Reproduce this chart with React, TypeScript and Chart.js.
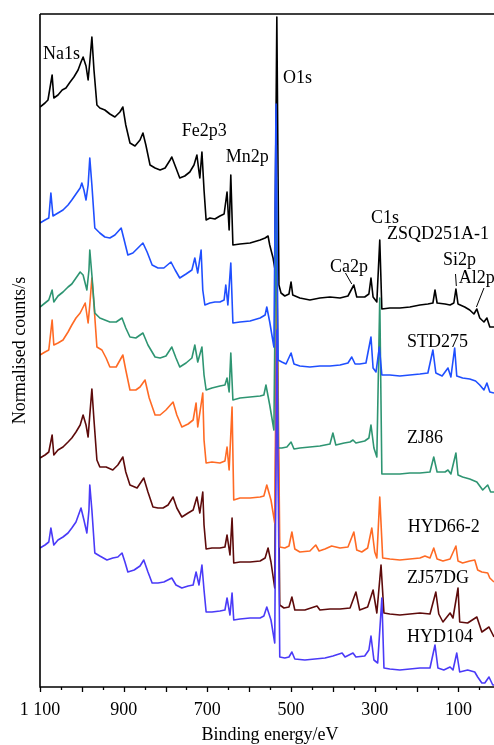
import React, { useEffect, useRef } from "react";
import { Chart, registerables } from "chart.js";

Chart.register(...registerables);

// Binding energy axis (eV, reversed) and normalised counts (arbitrary units)
const X_MAX = 1100;
const X_MIN = 15;
const Y_MIN = 0;
const Y_MAX = 673;

const tickLabels = [1100, 900, 700, 500, 300, 100];
const tickMarks = [1100, 1050, 1000, 950, 900, 850, 800, 750, 700, 650, 600, 550, 500, 450, 400, 350, 300, 250, 200, 150, 100, 50];

const seriesNames = ["ZSQD251A-1", "STD275", "ZJ86", "HYD66-2", "ZJ57DG", "HYD104"];
const seriesColors = ["#000000", "#1f4fff", "#2e9572", "#ff6a24", "#5e0b0b", "#4a3af8"];
const drawOrder = [5, 0, 2, 3, 4, 1];

const ZSQD251A1: [number, number][] = [
  [1100, 580], [1088, 584], [1081, 587], [1071, 612], [1067, 589], [1057, 592], [1047, 597], [1038, 599],
  [1028, 605], [1019, 610], [1009, 617], [1002, 625], [997, 630], [990, 621], [985, 607], [981, 625],
  [976, 650], [971, 617], [964, 582], [957, 579], [945, 577], [933, 573], [921, 570], [909, 575],
  [902, 580], [895, 562], [885, 544], [873, 541], [861, 547], [854, 554], [847, 542], [837, 522],
  [825, 519], [813, 517], [801, 519], [789, 527], [785, 530], [775, 519], [766, 509], [754, 511],
  [742, 515], [732, 522], [725, 532], [720, 515], [718, 509], [713, 535], [708, 497], [703, 467],
  [694, 469], [682, 468], [670, 471], [660, 473], [653, 495], [648, 457], [644, 512], [639, 442],
  [622, 443], [598, 444], [574, 447], [562, 449], [555, 451], [551, 442], [543, 429], [539, 419],
  [534, 670], [529, 402], [524, 394], [515, 391], [505, 393], [500, 405], [496, 392], [479, 389],
  [455, 387], [431, 389], [407, 390], [383, 389], [364, 391], [350, 402], [343, 390], [324, 390],
  [314, 393], [309, 409], [304, 390], [295, 385], [288, 447], [283, 378], [264, 379], [240, 379],
  [216, 380], [192, 382], [173, 383], [161, 384], [156, 397], [151, 384], [132, 383], [120, 382],
  [111, 384], [106, 398], [101, 383], [85, 380], [73, 377], [63, 373], [56, 378], [49, 369],
  [39, 365], [32, 369], [25, 360], [15, 360],
];

const STD275: [number, number][] = [
  [1100, 464], [1088, 467], [1079, 469], [1074, 494], [1069, 471], [1057, 474], [1045, 477], [1033, 482],
  [1024, 487], [1014, 493], [1004, 499], [1000, 504], [995, 497], [990, 487], [985, 502], [981, 529],
  [976, 502], [969, 459], [957, 454], [945, 450], [933, 449], [921, 452], [906, 459], [900, 449],
  [890, 432], [878, 434], [866, 439], [854, 444], [844, 435], [832, 422], [818, 419], [804, 419],
  [787, 425], [777, 417], [766, 409], [751, 413], [737, 417], [730, 429], [723, 414], [715, 437],
  [711, 397], [706, 382], [694, 384], [682, 385], [670, 385], [660, 387], [656, 402], [651, 382],
  [644, 424], [639, 364], [622, 365], [598, 366], [574, 369], [562, 372], [558, 380], [551, 365],
  [541, 340], [536, 583], [531, 327], [522, 325], [512, 323], [500, 334], [493, 323], [479, 321],
  [455, 320], [431, 321], [407, 321], [383, 322], [364, 324], [355, 330], [347, 323], [336, 323],
  [321, 324], [309, 350], [304, 319], [297, 315], [289, 340], [283, 312], [264, 312], [240, 311],
  [216, 312], [192, 313], [173, 314], [161, 337], [154, 314], [139, 311], [125, 319], [118, 310],
  [109, 339], [104, 311], [90, 309], [73, 308], [59, 306], [49, 302], [39, 297], [32, 304],
  [25, 295], [15, 294],
];

const ZJ86: [number, number][] = [
  [1100, 380], [1088, 384], [1079, 387], [1071, 397], [1067, 385], [1057, 391], [1045, 395], [1033, 400],
  [1024, 403], [1014, 409], [1004, 415], [997, 412], [988, 397], [983, 417], [981, 437], [976, 412],
  [969, 374], [957, 369], [945, 367], [933, 365], [918, 365], [904, 369], [895, 359], [885, 350],
  [871, 349], [854, 354], [842, 342], [825, 330], [813, 329], [799, 331], [785, 340], [775, 329],
  [766, 320], [751, 324], [737, 329], [730, 342], [723, 325], [713, 340], [708, 312], [703, 297],
  [689, 299], [670, 301], [658, 302], [653, 309], [648, 295], [644, 334], [639, 287], [622, 289],
  [598, 290], [574, 291], [565, 292], [560, 302], [551, 282], [541, 257], [535, 510], [531, 239],
  [522, 239], [510, 240], [500, 245], [493, 238], [479, 239], [455, 240], [431, 241], [407, 243],
  [400, 254], [393, 242], [373, 244], [359, 245], [352, 247], [345, 244], [324, 246], [314, 249],
  [309, 262], [302, 239], [295, 230], [288, 389], [283, 213], [264, 213], [240, 213], [216, 214],
  [192, 214], [168, 215], [159, 230], [151, 215], [132, 215], [125, 217], [118, 213], [106, 234],
  [101, 212], [90, 210], [73, 208], [56, 205], [42, 197], [30, 202], [23, 195], [15, 195],
];

const HYD66_2: [number, number][] = [
  [1100, 332], [1088, 335], [1079, 337], [1071, 367], [1067, 342], [1057, 344], [1045, 347], [1033, 355],
  [1024, 362], [1014, 369], [1004, 374], [992, 384], [985, 364], [981, 382], [976, 409], [971, 382],
  [964, 340], [952, 337], [942, 329], [933, 320], [918, 320], [902, 332], [895, 317], [885, 297],
  [871, 297], [861, 300], [849, 307], [839, 289], [825, 272], [813, 272], [799, 277], [782, 285],
  [773, 272], [761, 260], [746, 263], [734, 267], [727, 284], [723, 260], [711, 294], [708, 247],
  [703, 224], [689, 225], [670, 224], [658, 226], [653, 240], [648, 217], [641, 280], [637, 187],
  [622, 189], [598, 189], [574, 190], [565, 191], [558, 202], [548, 187], [539, 164], [534, 427],
  [527, 140], [515, 139], [505, 141], [498, 155], [491, 138], [479, 135], [455, 136], [441, 142],
  [433, 136], [419, 138], [403, 141], [383, 139], [364, 140], [350, 155], [343, 137], [331, 135],
  [317, 139], [307, 159], [300, 135], [295, 129], [288, 190], [281, 129], [264, 128], [240, 127],
  [216, 128], [192, 129], [180, 131], [168, 129], [159, 139], [151, 128], [137, 126], [120, 128],
  [106, 141], [101, 126], [90, 124], [73, 126], [61, 127], [54, 117], [44, 115], [30, 114],
  [25, 109], [15, 105],
];

const ZJ57DG: [number, number][] = [
  [1100, 229], [1088, 232], [1079, 235], [1071, 252], [1067, 232], [1057, 237], [1045, 240], [1033, 245],
  [1024, 249], [1014, 255], [1004, 262], [997, 272], [990, 262], [985, 250], [981, 272], [976, 298],
  [971, 267], [964, 227], [957, 220], [942, 220], [926, 217], [914, 222], [902, 230], [895, 215],
  [885, 202], [868, 199], [852, 209], [842, 195], [830, 180], [818, 179], [806, 179], [794, 182],
  [782, 190], [773, 179], [761, 170], [746, 174], [734, 177], [725, 190], [718, 174], [711, 195],
  [708, 162], [703, 138], [689, 139], [670, 139], [658, 140], [653, 152], [646, 132], [641, 169],
  [637, 124], [622, 125], [598, 125], [574, 126], [562, 129], [555, 139], [548, 125], [539, 99],
  [534, 387], [527, 82], [517, 79], [505, 80], [498, 90], [491, 77], [467, 77], [438, 81],
  [431, 77], [407, 78], [383, 78], [359, 79], [345, 95], [336, 77], [317, 80], [304, 97],
  [295, 74], [285, 122], [278, 74], [264, 73], [240, 72], [216, 73], [192, 74], [168, 73],
  [154, 95], [147, 73], [137, 65], [120, 74], [113, 69], [101, 99], [97, 65], [78, 64],
  [56, 70], [44, 55], [27, 60], [15, 50],
];

const HYD104: [number, number][] = [
  [1100, 139], [1088, 142], [1079, 145], [1074, 159], [1067, 142], [1057, 147], [1045, 150], [1033, 154],
  [1024, 159], [1014, 165], [1002, 179], [995, 167], [988, 154], [983, 177], [981, 202], [976, 177],
  [969, 134], [957, 131], [940, 127], [926, 129], [914, 130], [904, 134], [897, 125], [890, 115],
  [875, 117], [861, 121], [852, 127], [842, 115], [832, 104], [818, 104], [804, 105], [785, 109],
  [775, 102], [761, 99], [746, 101], [734, 102], [727, 115], [720, 102], [713, 122], [708, 97],
  [703, 75], [689, 75], [670, 76], [658, 77], [653, 89], [646, 72], [641, 94], [637, 67],
  [622, 68], [598, 69], [574, 69], [565, 71], [558, 80], [548, 67], [539, 44], [534, 357],
  [527, 30], [515, 29], [505, 30], [498, 35], [491, 28], [467, 27], [443, 28], [419, 29],
  [400, 31], [378, 34], [371, 30], [352, 34], [345, 30], [324, 31], [314, 37], [309, 51],
  [302, 27], [293, 24], [283, 89], [278, 19], [264, 18], [240, 17], [216, 18], [192, 19],
  [168, 19], [156, 42], [149, 19], [135, 17], [120, 20], [113, 17], [104, 34], [97, 15],
  [78, 17], [61, 15], [54, 10], [44, 4], [37, 4], [27, 10], [18, 2], [15, 2],
];

const seriesData = [ZSQD251A1, STD275, ZJ86, HYD66_2, ZJ57DG, HYD104];

// Text annotations anchored in data units: [text, energy, counts] (left/baseline)
const peakLabels: [string, number, number][] = [
  ["Na1s", 1093, 628],
  ["Fe2p3", 761, 551],
  ["Mn2p", 656, 525],
  ["O1s", 519, 604],
  ["C1s", 309, 464],
  ["Ca2p", 407, 415],
  ["Si2p", 137, 422],
  ["Al2p", 99, 404],
];
const sampleLabels: [string, number, number][] = [
  ["ZSQD251A-1", 271, 448],
  ["STD275", 223, 340],
  ["ZJ86", 223, 244],
  ["HYD66-2", 221, 155],
  ["ZJ57DG", 223, 104],
  ["HYD104", 223, 45],
];
const pointerLines: [number, number, number, number][] = [
  [370, 414, 355, 403],
  [107, 413, 105, 401],
  [39, 399, 57, 380],
];

const X_TITLE = "Binding energy/eV";
const Y_TITLE = "Normalised counts/s";
const FONT = '18px "Liberation Serif", "Times New Roman", serif';

function fmtTick(v: number): string {
  return v >= 1000 ? `${Math.floor(v / 1000)} ${String(v % 1000).padStart(3, "0")}` : String(v);
}

const framePlugin = {
  id: "xpsFrame",
  afterDraw(chart: any) {
    const { ctx, chartArea, scales } = chart;
    const xs = scales.x;
    const ys = scales.y;
    const { left, top, right, bottom } = chartArea;
    ctx.save();
    ctx.strokeStyle = "#000";
    ctx.lineWidth = 1.6;
    ctx.beginPath();
    ctx.moveTo(left, top);
    ctx.lineTo(right + 2, top);
    ctx.moveTo(left, top);
    ctx.lineTo(left, bottom);
    ctx.lineTo(right + 2, bottom);
    ctx.stroke();

    ctx.lineWidth = 1.3;
    ctx.beginPath();
    tickMarks.forEach((v) => {
      const px = Math.round(xs.getPixelForValue(v)) + 0.5;
      const len = v % 100 === 0 ? 5 : 3;
      ctx.moveTo(px, bottom);
      ctx.lineTo(px, bottom + len);
    });
    ctx.stroke();

    ctx.fillStyle = "#000";
    ctx.font = FONT;
    ctx.textAlign = "center";
    ctx.textBaseline = "alphabetic";
    tickLabels.forEach((v) => {
      ctx.fillText(fmtTick(v), xs.getPixelForValue(v), bottom + 28);
    });
    ctx.fillText(X_TITLE, (left + right) / 2 + 3, bottom + 53);

    ctx.save();
    ctx.translate(25, (top + bottom) / 2);
    ctx.rotate(-Math.PI / 2);
    ctx.fillText(Y_TITLE, 0, 0);
    ctx.restore();

    ctx.textAlign = "left";
    [...peakLabels, ...sampleLabels].forEach(([t, e, c]) => {
      ctx.fillText(t, xs.getPixelForValue(e), ys.getPixelForValue(c));
    });

    ctx.lineWidth = 1;
    ctx.beginPath();
    pointerLines.forEach(([e1, c1, e2, c2]) => {
      ctx.moveTo(xs.getPixelForValue(e1), ys.getPixelForValue(c1));
      ctx.lineTo(xs.getPixelForValue(e2), ys.getPixelForValue(c2));
    });
    ctx.stroke();
    ctx.restore();
  },
};

export default function App() {
  const ref = useRef<HTMLCanvasElement | null>(null);
  useEffect(() => {
    if (!ref.current) return;
    const chart = new Chart(ref.current, {
      type: "line",
      data: {
        datasets: seriesData.map((pts, i) => ({
          label: seriesNames[i],
          data: pts.map(([x, y]) => ({ x, y })),
          borderColor: seriesColors[i],
          backgroundColor: seriesColors[i],
          borderWidth: 1.6,
          borderJoinStyle: "round" as const,
          pointRadius: 0,
          tension: 0,
          fill: false,
          order: drawOrder[i],
        })),
      },
      options: {
        animation: false,
        responsive: false,
        parsing: false as any,
        layout: { padding: { left: 40, top: 14, right: 0, bottom: 58 } },
        plugins: { legend: { display: false }, tooltip: { enabled: false } },
        scales: {
          x: { type: "linear", reverse: true, min: X_MIN, max: X_MAX, display: false },
          y: { type: "linear", min: Y_MIN, max: Y_MAX, display: false },
        },
      },
      plugins: [framePlugin],
    });
    return () => chart.destroy();
  }, []);
  return (
    <div style={{ position: "fixed", left: 0, top: 0, width: 494, height: 745, background: "#fff" }}>
      <canvas ref={ref} width={494} height={745} style={{ display: "block" }} />
    </div>
  );
}
